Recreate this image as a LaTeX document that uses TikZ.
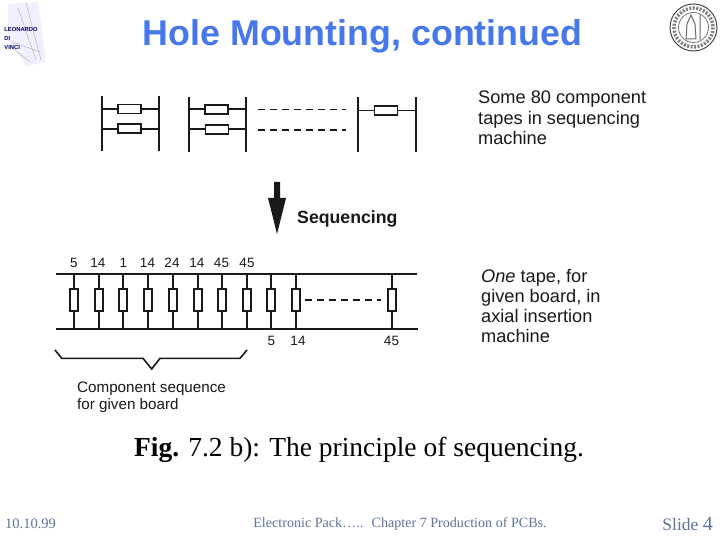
\documentclass[tikz,border=0pt]{standalone}
\usepackage{fontspec}
\setmainfont{Liberation Sans}
\newfontfamily\serifx{Liberation Serif}
\definecolor{titleblue}{RGB}{70,120,235}
\definecolor{ink}{RGB}{25,25,25}
\definecolor{footgray}{RGB}{95,115,155}
\tikzset{
 rail/.style={draw=ink,line width=1.8pt},
 wire/.style={draw=ink,line width=1.8pt},
 hres/.style={draw=ink,line width=1.8pt,fill=white,minimum width=23pt,minimum height=9pt,inner sep=0pt,outer sep=0pt},
 vres/.style={draw=ink,line width=1.8pt,fill=white,minimum width=8pt,minimum height=22pt,inner sep=0pt,outer sep=0pt},
 dashline/.style={draw=ink,line width=1.8pt,dash pattern=on 6.5pt off 5.5pt},
 num/.style={font=\fontsize{13.5}{14}\selectfont,text=ink,inner sep=0pt},
 lab/.style={font=\fontsize{18.2}{20.2}\selectfont,text=ink,align=left,anchor=north west,inner sep=0pt},
 labs/.style={font=\fontsize{15.2}{17}\selectfont,text=ink,align=left,anchor=north west,inner sep=0pt},
}
\begin{document}
\begin{tikzpicture}[x=1pt,y=-1pt]
\useasboundingbox (0,0) rectangle (720,540);
\fill[white] (0,0) rectangle (720,540);
% title
\node[inner sep=0pt,text=titleblue,font=\fontsize{35.8}{38}\selectfont\bfseries] (title) at (362.5,36.5) {Hole Mounting, continued};
% left logo
\fill[blue!6] (8,4) -- (38,2) -- (46,62) -- (26,66) -- (8,40) -- cycle;
\draw[gray!50,line width=.6pt] (26,3) -- (41,60) (18,8) -- (36,60) (12,42) -- (40,52) (10,46) -- (30,62);
\node[inner sep=0pt,align=left,text=blue!40!black,font=\fontsize{5.8}{9}\selectfont\bfseries] (logotext) at (21,39) {LEONARDO\\DI\\VINCI};
% right seal
\node[circle,draw=ink!80,line width=1pt,minimum size=47pt,inner sep=0pt] (sealout) at (693.5,27.5) {};
\node[circle,draw=ink!60,line width=.8pt,minimum size=30pt,inner sep=0pt] (sealin) at (693.5,27.5) {};
\draw[ink!55,line width=3.5pt,dash pattern=on 2pt off 1.5pt] (693.5,27.5) circle (19.5);
\draw[ink!65,line width=1pt] (691,15) -- (687,24) -- (686,39) -- (696,39) -- (695,24) -- cycle (700,14) -- (700,40);
% top row
\coordinate (a1t) at (101.7,96); \coordinate (a1b) at (101.7,151.5);
\coordinate (a2t) at (158.7,96); \coordinate (a2b) at (158.7,151.5);
\coordinate (b1t) at (189,97); \coordinate (b1b) at (189,152);
\coordinate (b2t) at (246,97); \coordinate (b2b) at (246,152);
\coordinate (c1t) at (358,97); \coordinate (c1b) at (358,152);
\coordinate (c2t) at (416,97); \coordinate (c2b) at (416,152);
\foreach \n in {a1,a2,b1,b2,c1,c2} \draw[rail] (\n t) -- (\n b);
\draw[wire] (a1t |- 0,109) -- (a2t |- 0,109);
\draw[wire] (a1t |- 0,128.7) -- (a2t |- 0,128.7);
\draw[wire] (b1t |- 0,109.3) -- (b2t |- 0,109.3);
\draw[wire] (b1t |- 0,129.3) -- (b2t |- 0,129.3);
\draw[wire] (c1t |- 0,110.5) -- (c2t |- 0,110.5);
\node[hres] (ra1) at (129.5,109) {};
\node[hres] (ra2) at (129.5,128.7) {};
\node[hres] (rb1) at (216.5,109.3) {};
\node[hres] (rb2) at (217,129.3) {};
\node[hres] (rc1) at (386,110.5) {};
\coordinate (d1a) at (258,109.5); \coordinate (d1b) at (346,109.5);
\coordinate (d2a) at (258,130); \coordinate (d2b) at (346,130);
\draw[dashline] (d1a) -- (d1b);
\draw[dashline] (d2a) -- (d2b);
\node[lab] (toplab) at (478,91) {Some 80 component\\tapes in sequencing\\machine};
% arrow
\coordinate (ar3) at (277,234);
\fill[ink] (274,182) -- (280,182) -- (280,198) -- (286,198) -- (ar3) -- (268,198) -- (274,198) -- cycle;
\node[inner sep=0pt,anchor=west,text=ink,font=\fontsize{17.7}{20}\selectfont\bfseries] (seq) at (297,219) {Sequencing};
% bottom tape
\coordinate (tl) at (56,273.7); \coordinate (tr) at (417,273.7);
\coordinate (bl) at (56,328.7); \coordinate (br) at (418,328.7);
\draw[rail] (tl) -- (tr);
\draw[rail] (bl) -- (br);
\foreach \i/\x in {1/74,2/98.7,3/123.3,4/148.3,5/173,6/197.7,7/222,8/246.7,9/271,10/295.7,11/392}{
  \draw[wire] (\x,273.7) -- (\x,328.7);
  \node[vres] (v\i) at (\x,300.3) {};
}
\coordinate (d3a) at (305,300); \coordinate (d3b) at (381,300);
\draw[dashline] (d3a) -- (d3b);
\foreach \i/\x/\t in {1/74/5,2/98/14,3/123.5/1,4/147.5/14,5/172/24,6/197/14,7/221.5/45,8/247/45}
  \node[num] (tn\i) at (\x,262.5) {\t};
\node[num] (bn1) at (271.5,341) {5};
\node[num] (bn2) at (298,341) {14};
\node[num] (bn3) at (391.5,341) {45};
\node[lab] (tlab) at (481,269) {\textit{One} tape, for\\given board, in\\axial insertion\\machine};
% brace
\draw[draw=ink,line width=1.6pt] (55,350) -- (61.7,358.3) -- (143,358.3) -- (151.7,369) -- (160,358.3) -- (240,358.3) -- (247,350);
\node[labs] (clab) at (77,382) {Component sequence\\for given board};
% caption and footer
\node[inner sep=0pt,text=black,font=\serifx\fontsize{27.5}{30}\selectfont] (cap) at (359,450) {\textbf{Fig.} 7.2 b): The principle of sequencing.};
\node[inner sep=0pt,anchor=west,text=footgray,font=\serifx\fontsize{14.5}{16}\selectfont] (date) at (5,524) {10.10.99};
\node[inner sep=0pt,text=footgray,font=\serifx\fontsize{14.1}{16}\selectfont] (foot) at (400,524) {Electronic Pack….. \ Chapter 7 Production of PCBs.};
\node[inner sep=0pt,anchor=east,text=footgray,font=\serifx\fontsize{17.5}{20}\selectfont] (slide) at (713,523.5) {Slide \fontsize{20}{20}\selectfont 4};
\end{tikzpicture}
\end{document}
